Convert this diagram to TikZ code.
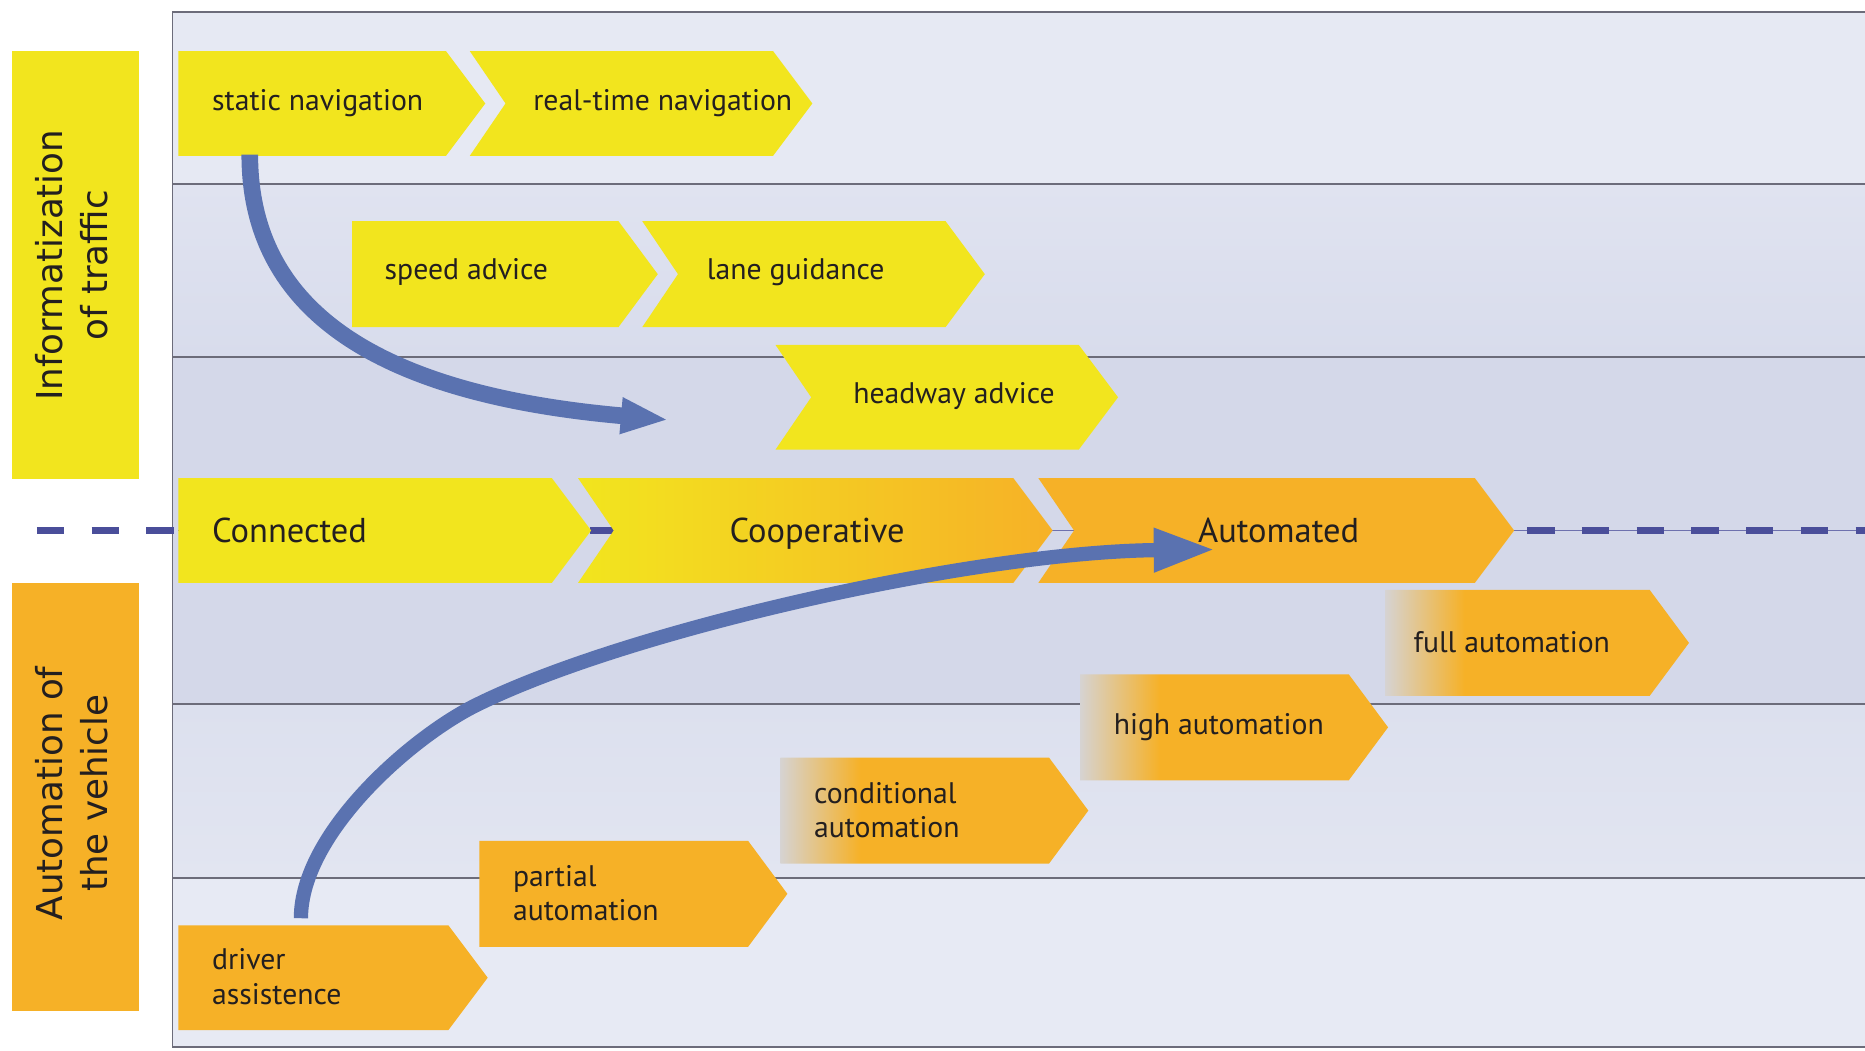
\documentclass[tikz,border=0pt]{standalone}
\usepackage{fontspec}
\setmainfont{PT Sans}
\newfontfamily\lblfont{DejaVu Sans}
\usetikzlibrary{arrows.meta}
\definecolor{ylw}{HTML}{F2E51E}
\definecolor{orng}{HTML}{F6B127}
\definecolor{fadec}{HTML}{D6D3D2}
\definecolor{bgA}{HTML}{E6E9F3}
\definecolor{bgB1}{HTML}{E0E3F0}
\definecolor{bgB2}{HTML}{D8DCEC}
\definecolor{bgC}{HTML}{D4D8E9}
\definecolor{bgD1}{HTML}{DCE0EE}
\definecolor{bgD2}{HTML}{E2E5F1}
\definecolor{bgE}{HTML}{E7EAF4}
\definecolor{gridc}{HTML}{6C6C7A}
\definecolor{arrc}{HTML}{5A72B0}
\definecolor{dashc}{HTML}{4A4E9A}
\definecolor{txt}{HTML}{231F20}
\pgfdeclarehorizontalshading{orfade}{100bp}{color(0bp)=(fadec); color(25bp)=(fadec); color(38bp)=(orng); color(100bp)=(orng)}
% chevron: #1 left x, #2 tip x, #3 top y, #4 bottom y, #5 notch depth, #6 options
\newcommand\chev[6]{\path[#6] (#1,#3) -- ({#2-33},#3) -- (#2,{(#3+#4)/2}) -- ({#2-33},#4) -- (#1,#4) -- ({#1+#5},{(#3+#4)/2}) -- cycle;}
\begin{document}
\begin{tikzpicture}[x=0.5pt,y=-0.5pt,
  lbl/.style={font=\fontsize{12.5}{14.5}\selectfont, text=txt, inner sep=0pt, align=left, anchor=west},
  biglbl/.style={font=\fontsize{14.5}{17}\selectfont, text=txt, inner sep=0pt},
  sidelbl/.style={font=\lblfont\fontsize{15}{19}\selectfont, text=txt, inner sep=0pt, align=center, rotate=90},
  gridln/.style={draw=gridc, line width=0.8pt},
  bluearr/.style={draw=arrc, line width=7pt},
  thindash/.style={draw=dashc!80, line width=0.7pt},
  thickdash/.style={draw=dashc, line width=3pt, dash pattern=on 11.5pt off 11.5pt}]
\useasboundingbox (0,0) rectangle (1568,883);
\fill[white] (0,0) rectangle (1568,883);
% background rows
\fill[bgA] (145,10) rectangle (1568,155);
\shade[top color=bgB1,bottom color=bgB2] (145,155) rectangle (1568,300);
\fill[bgC] (145,300) rectangle (1568,592);
\shade[top color=bgD1,bottom color=bgD2] (145,592) rectangle (1568,738);
\fill[bgE] (145,738) rectangle (1568,880);
% frame and grid lines
\draw[gridln] (1568,10) -- (145,10) -- (145,880) -- (1568,880);
\draw[gridln] (145,155) -- (1568,155);
\draw[gridln] (145,300) -- (1568,300);
\draw[gridln] (145,592) -- (1568,592);
\draw[gridln] (145,738) -- (1568,738);
% side labels
\fill[ylw] (10,43) rectangle (117,403);
\node[sidelbl] (infoLbl) at (60,223) {Informatization\\of traffic};
\fill[orng] (10,490) rectangle (117,850);
\node[sidelbl] (autoLbl) at (60,667) {Automation of\\the vehicle};
% dashed time line
\coordinate (dL0) at (31,446);
\coordinate (dL1) at (150,446);
\coordinate (dM0) at (496,446);
\coordinate (dM1) at (519,446);
\coordinate (dR0) at (1284,446);
\coordinate (dR1) at (1568,446);
\draw[thindash] (dL1) -- (dR1);
\draw[thickdash] (dL0) -- (dL1);
\draw[draw=dashc, line width=3pt] (dM0) -- (dM1);
\draw[thickdash] (dR0) -- (dR1);
% chevrons
\chev{150}{408}{43}{131}{0}{fill=ylw}
\chev{395}{683}{43}{131}{30}{fill=ylw}
\chev{296}{553}{186}{275}{0}{fill=ylw}
\chev{540}{828}{186}{275}{30}{fill=ylw}
\chev{652}{940}{290}{378}{30}{fill=ylw}
\chev{150}{497}{402}{490}{0}{fill=ylw}
\chev{486}{885}{402}{490}{30}{left color=ylw,right color=orng}
\chev{873}{1273}{402}{490}{30}{fill=orng}
\chev{1165}{1420}{496}{585}{0}{shade,shading=orfade}
\chev{908}{1167}{567}{656}{0}{shade,shading=orfade}
\chev{656}{915}{637}{726}{0}{shade,shading=orfade}
\chev{403}{662}{707}{796}{0}{fill=orng}
\chev{150}{410}{778}{866}{0}{fill=orng}
% arrows
\coordinate (a1s) at (210,130);
\coordinate (a1e) at (562,353);
\coordinate (a2s) at (253,772);
\coordinate (a2e) at (1022,462);
\draw[bluearr, -{Triangle[length=20pt,width=14pt]}] (a1s) .. controls (210,250) and (300,330) .. (a1e);
\draw[bluearr, line width=6pt, -{Triangle[length=26pt,width=17pt]}] (a2s) .. controls (253,700) and (348,618) .. (402,592) .. controls (530,529) and (820,464) .. (a2e);
% texts
\node[lbl] (sn) at (178,87) {static navigation};
\node[lbl] (rt) at (448,87) {real-time navigation};
\node[lbl] (sa) at (323,229) {speed advice};
\node[lbl] (lg) at (594,229) {lane guidance};
\node[lbl] (ha) at (717,333) {headway advice};
\node[biglbl, anchor=base west] (cn) at (178,456) {Connected};
\node[biglbl, anchor=base] (co) at (687,456) {Cooperative};
\node[biglbl, anchor=base] (au) at (1075,456) {Automated};
\node[lbl] (fa) at (1188,540) {full automation};
\node[lbl] (hi) at (936,611) {high automation};
\node[lbl] (cd) at (684,681) {conditional\\automation};
\node[lbl] (pa) at (431,751) {partial\\automation};
\node[lbl] (da) at (178,821) {driver\\assistence};
\end{tikzpicture}
\end{document}
